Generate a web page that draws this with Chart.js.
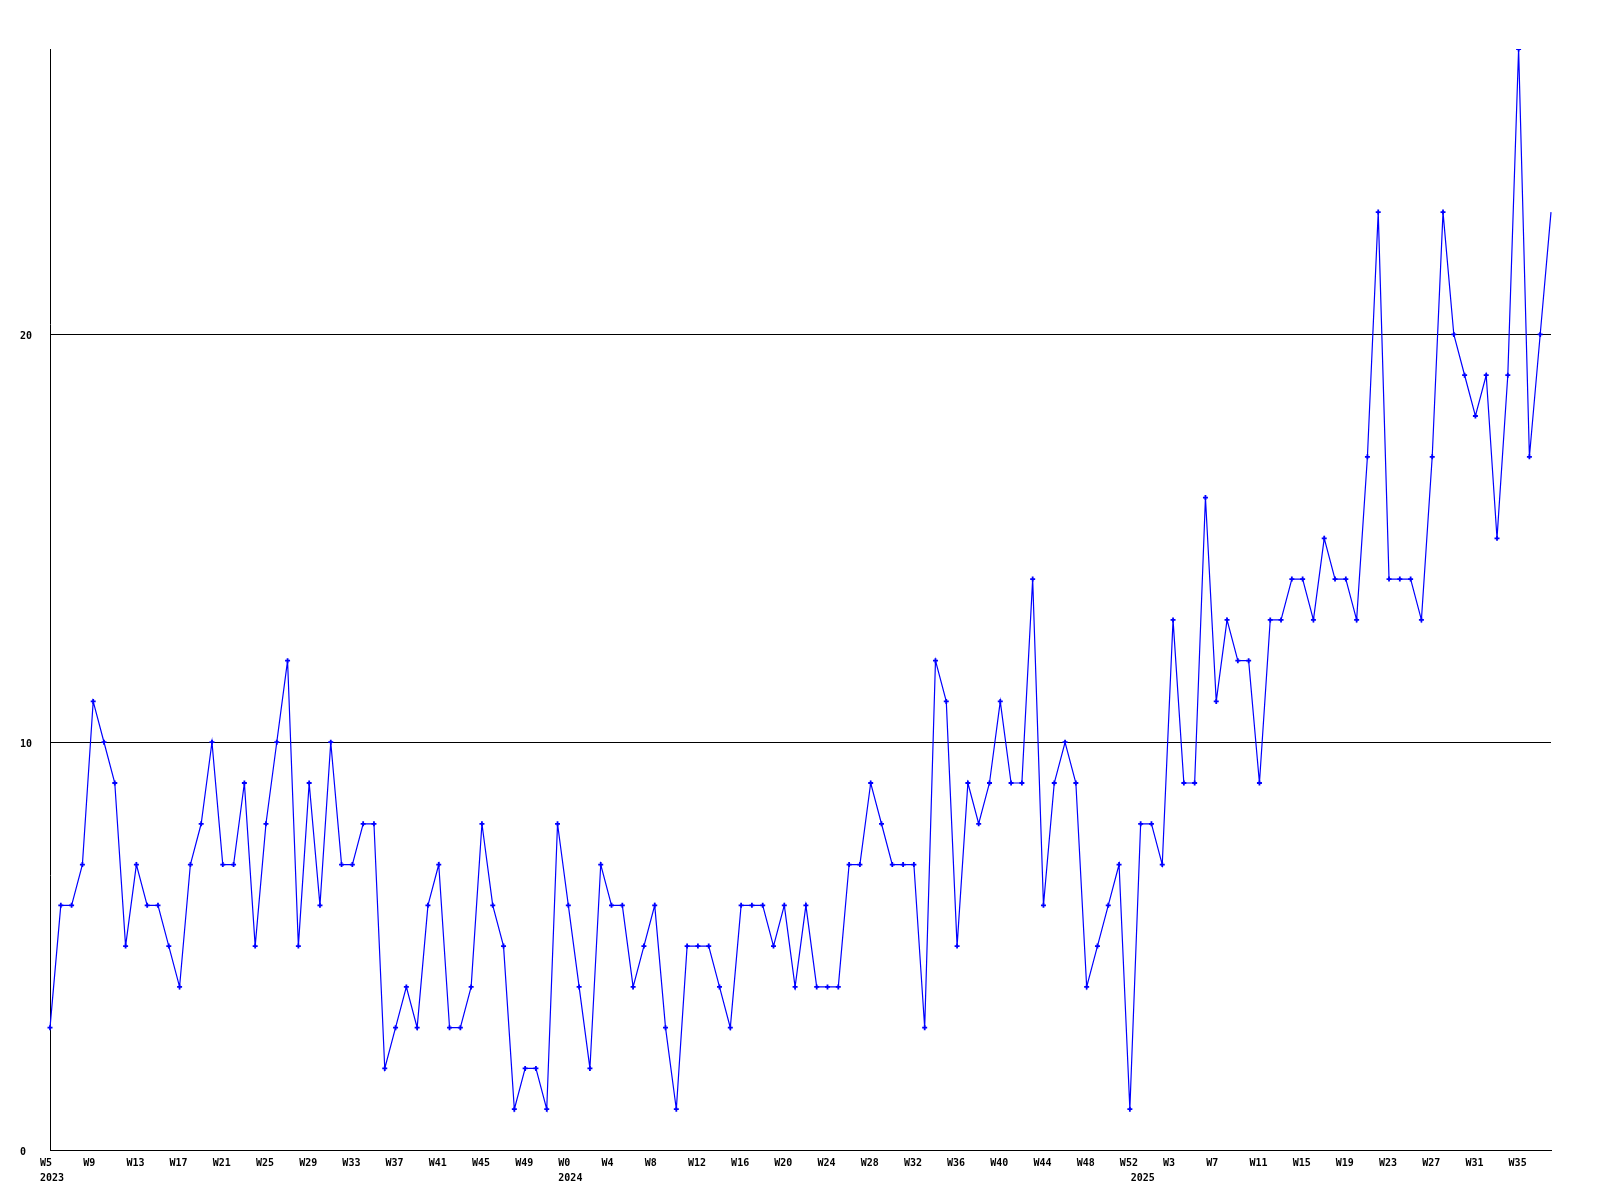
<!DOCTYPE html>
<html>
<head>
<meta charset="utf-8">
<script src="https://cdn.jsdelivr.net/npm/chart.js@4/dist/chart.umd.min.js"></script>
<style>
html,body{margin:0;padding:0;background:#fff;}
#wrap{width:1600px;height:1200px;}
</style>
</head>
<body>
<div id="wrap"><canvas id="c" width="1600" height="1200"></canvas></div>
<script>
// Week ranges per year: [year, firstWeek, lastWeek]
const yearRanges = [[2023, 5, 52], [2024, 0, 52], [2025, 0, 38]];
const categories = [];
for (const [yr, a, b] of yearRanges) {
  for (let w = a; w <= b; w++) categories.push(yr + '-W' + w);
}
const values = [
  3,6,6,7,11,10,9,5,7,6,6,5,4,7,8,10,7,7,9,5,8,10,12,5,9,6,
  10,7,7,8,8,2,3,4,3,6,7,3,3,4,8,6,5,1,2,2,1,8,6,4,
  2,7,6,6,4,5,6,3,1,5,5,5,4,3,6,6,6,5,6,4,6,4,4,4,
  7,7,9,8,7,7,7,3,12,11,5,9,8,9,11,9,9,14,6,9,10,9,4,5,
  6,7,1,8,8,7,13,9,9,16,11,13,12,12,9,13,13,14,14,13,15,14,
  14,13,17,23,14,14,14,13,17,23,20,19,18,19,15,19,27,17,20,23
];
const yTicks = [0, 10, 20];
const yMax = 27;

const FONT = {family: "'DejaVu Sans Mono', monospace", size: 10, weight: 'bold', lineHeight: 1.5};

new Chart(document.getElementById('c'), {
  type: 'line',
  data: {
    labels: categories,
    datasets: [{
      data: values,
      borderColor: '#0000ff',
      backgroundColor: '#0000ff',
      borderWidth: 1.2,
      tension: 0,
      fill: false,
      pointStyle: 'cross',
      pointRadius: (ctx) => ctx.dataIndex === values.length - 1 ? 0 : 2.5,
      pointBorderWidth: 1.8,
      pointBorderColor: '#0000ff'
    }]
  },
  options: {
    responsive: false,
    animation: false,
    events: [],
    layout: {padding: {left: 20, right: 49, top: 49, bottom: 0}},
    plugins: {legend: {display: false}, tooltip: {enabled: false}},
    scales: {
      x: {
        type: 'category',
        offset: false,
        grid: {display: false, drawTicks: false},
        border: {display: true, color: '#000', width: 1},
        afterFit: (s) => { s.height = 50; },
        ticks: {
          autoSkip: false,
          maxRotation: 0,
          minRotation: 0,
          align: 'start',
          labelOffset: -10,
          padding: 6,
          color: '#000',
          font: FONT,
          callback: function(v, i) {
            const [yr, wk] = categories[i].split('-');
            const isYearStart = i === 0 || wk === 'W0';
            const l1 = i % 4 === 0 ? wk : '';
            return isYearStart ? [l1, yr] : l1;
          }
        }
      },
      y: {
        min: 0,
        max: yMax,
        afterFit: (s) => { s.width = 30; },
        afterBuildTicks: (s) => { s.ticks = yTicks.map(v => ({value: v})); },
        grid: {color: '#000', lineWidth: 1, drawTicks: false},
        border: {display: true, color: '#000', width: 1},
        ticks: {
          crossAlign: 'far',
          includeBounds: false,
          padding: 4,
          labelOffset: 2,
          color: '#000',
          font: FONT
        }
      }
    }
  }
});
</script>
</body>
</html>
